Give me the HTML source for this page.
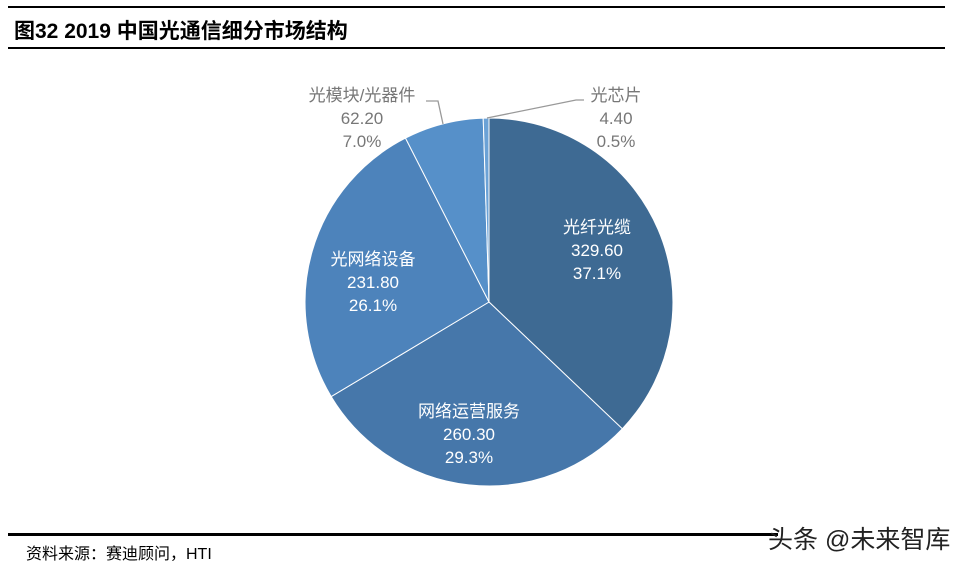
<!DOCTYPE html>
<html><head><meta charset="utf-8"><style>
body{margin:0;width:969px;height:568px;background:#fff;overflow:hidden;position:relative;font-family:"Liberation Sans","Noto Sans CJK SC",sans-serif}
.l{position:absolute;left:8px;width:937px;background:#000}
</style></head><body>
<div class="l" style="top:6px;height:2px"></div>
<div style="position:absolute;left:14px;top:15px;font-size:21px;font-weight:bold;font-family:'Liberation Sans','Noto Sans CJK SC',sans-serif">图32 2019 中国光通信细分市场结构</div>
<div class="l" style="top:47px;height:2px"></div>
<svg style="position:absolute;left:0;top:0" width="969" height="568" font-family="Liberation Sans, Noto Sans CJK SC, sans-serif" font-size="17">
<g stroke="#fff" stroke-width="1">
<path d="M489,302 L489,118 A184,184 0 0,1 622.3,428.8 Z" fill="#3e6a93"/>
<path d="M489,302 L622.3,428.8 A184,184 0 0,1 331.2,396.6 Z" fill="#4677aa"/>
<path d="M489,302 L331.2,396.6 A184,184 0 0,1 405.5,138.1 Z" fill="#4d83bb"/>
<path d="M489,302 L405.5,138.1 A184,184 0 0,1 483.2,118.1 Z" fill="#5690c9"/>
<path d="M489,302 L483.2,118.1 A184,184 0 0,1 489,118 Z" fill="#6ba2d6"/>
</g>
<g fill="none" stroke="#999" stroke-width="1.3">
<polyline points="443,124 438,101 426,101"/>
<polyline points="487,118 576,100 584,100"/>
</g>
<g fill="#777" text-anchor="middle">
<text x="362" y="101">光模块/光器件</text>
<text x="362" y="124">62.20</text>
<text x="362" y="147">7.0%</text>
<text x="616" y="101">光芯片</text>
<text x="616" y="124">4.40</text>
<text x="616" y="147">0.5%</text>
</g>
<g fill="#fff" text-anchor="middle">
<text x="597" y="233">光纤光缆</text>
<text x="597" y="256">329.60</text>
<text x="597" y="279">37.1%</text>
<text x="469" y="417">网络运营服务</text>
<text x="469" y="440">260.30</text>
<text x="469" y="463">29.3%</text>
<text x="373" y="265">光网络设备</text>
<text x="373" y="288">231.80</text>
<text x="373" y="311">26.1%</text>
</g>
</svg>
<div class="l" style="top:533px;height:3px;width:770px"></div>
<div style="position:absolute;left:26px;top:540px;font-size:16px">资料来源：赛迪顾问，HTI</div>
<div style="position:absolute;left:768px;top:520px;font-size:25px;color:#222">头条 @未来智库</div>
</body></html>
